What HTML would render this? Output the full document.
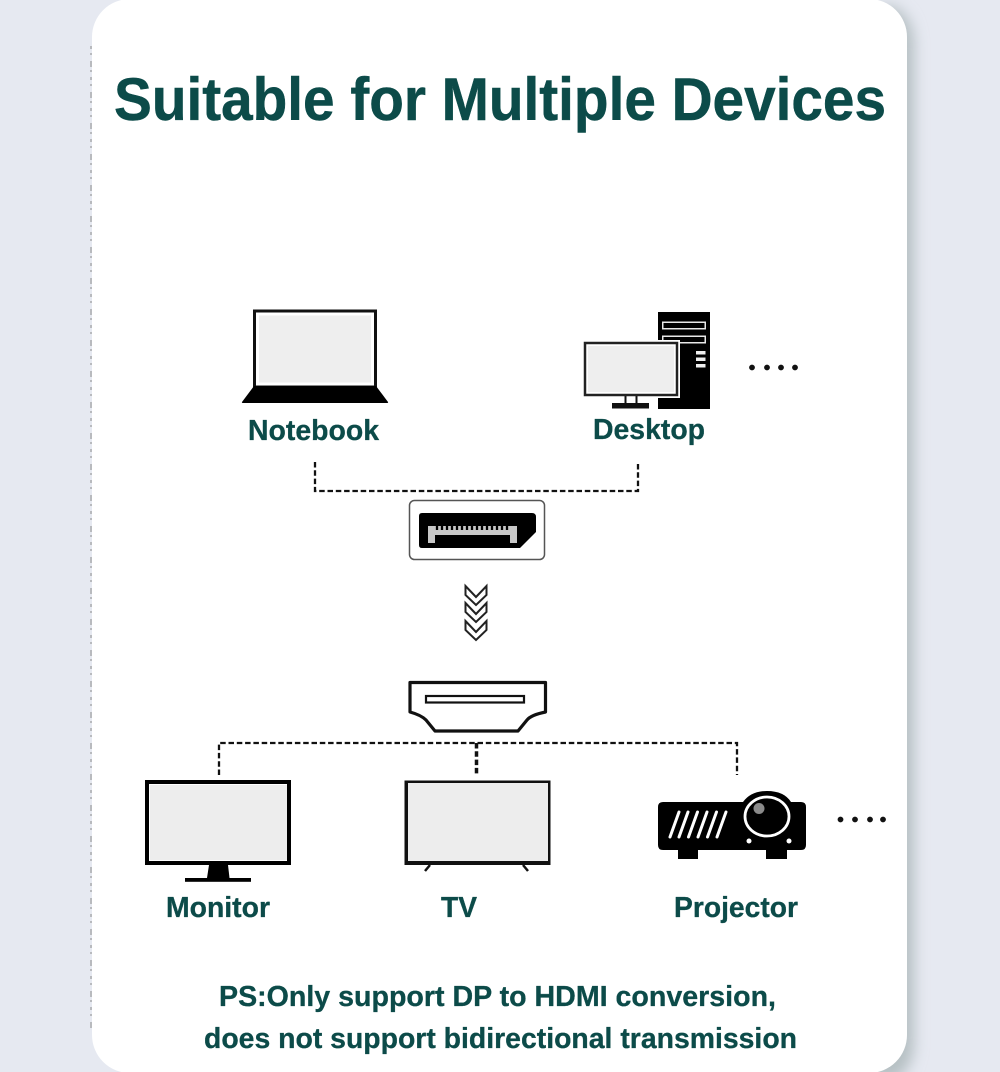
<!DOCTYPE html>
<html><head><meta charset="utf-8"><style>
html,body{margin:0;padding:0;background:#e6e9f1}
svg{display:block}
text{font-family:"Liberation Sans",sans-serif;font-weight:bold;fill:#0c4b49;stroke:#0c4b49;stroke-width:.3}
</style></head><body>
<svg width="1000" height="1072" viewBox="0 0 1000 1072" xmlns="http://www.w3.org/2000/svg">
<defs>
<filter id="bl" filterUnits="userSpaceOnUse" x="820" y="-60" width="160" height="1200"><feGaussianBlur stdDeviation="7"/></filter>
</defs>
<rect width="1000" height="1072" fill="#e6e9f1"/>
<rect x="860" y="6" width="54" height="1075" rx="38" fill="#b6c0c3" filter="url(#bl)"/>
<rect x="92" y="-1" width="815" height="1074" rx="38" fill="#fff"/>
<line x1="91" y1="46" x2="91" y2="1030" stroke="#a9abae" stroke-width="1.500" stroke-dasharray="3 4 2 6 6 3 2 5"/>

<text x="114" y="120" font-size="60" textLength="772" lengthAdjust="spacingAndGlyphs" style="stroke-width:.5">Suitable for Multiple Devices</text>

<!-- Notebook -->
<rect x="254.500" y="311" width="121" height="76" fill="#fff" stroke="#111" stroke-width="3"/>
<rect x="259" y="315.500" width="112" height="67" fill="#eeeeee"/>
<path d="M254 386H376L388 402Q388.500 403 387 403H243Q241.500 403 242 402Z" fill="#000"/>
<text x="248" y="440" font-size="29" textLength="131" lengthAdjust="spacingAndGlyphs">Notebook</text>

<!-- Desktop -->
<rect x="658" y="312" width="52" height="97" fill="#000"/>
<rect x="662" y="321.500" width="44" height="8" fill="#e8e8e8"/><rect x="663.500" y="323" width="41" height="5" fill="#000"/>
<rect x="662" y="335.500" width="44" height="8" fill="#e8e8e8"/><rect x="663.500" y="337" width="41" height="5" fill="#000"/>
<rect x="696" y="351" width="9.500" height="3.500" fill="#eee"/><rect x="696" y="357.500" width="9.500" height="3.500" fill="#eee"/><rect x="696" y="364" width="9.500" height="3.500" fill="#eee"/>
<rect x="582" y="340" width="98" height="58" fill="#fff"/>
<rect x="625.500" y="394" width="11" height="10" fill="#fff" stroke="#111" stroke-width="2"/>
<rect x="585" y="343" width="92" height="52" fill="#fff" stroke="#222" stroke-width="2.500"/>
<rect x="588" y="346" width="86" height="46" fill="#eeeeee"/>
<rect x="612" y="403" width="37" height="5.500" fill="#111"/>
<text x="593" y="439" font-size="29" textLength="112" lengthAdjust="spacingAndGlyphs">Desktop</text>
<g fill="#111"><circle cx="752" cy="367.500" r="2.900"/><circle cx="767" cy="367.500" r="2.900"/><circle cx="781" cy="367.500" r="2.900"/><circle cx="795" cy="367.500" r="2.900"/></g>

<!-- Upper connector -->
<path d="M315 462V491H638V462" fill="none" stroke="#111" stroke-width="2.300" stroke-dasharray="5.500 2.800"/>

<!-- DP port -->
<rect x="409.500" y="500.500" width="135" height="59" rx="5" fill="#fff" stroke="#555" stroke-width="1.500"/>
<path d="M422 513H532Q536 513 536 517V532L520 548H422Q419 548 419 545V516Q419 513 422 513Z" fill="#000"/>
<path d="M428 526H517V543H510V535H435V543H428Z" fill="#c8c8c8"/>
<path d="M437 526V530M442 526V530M447 526V530M452 526V530M457 526V530M462 526V530M467 526V530M472 526V530M477 526V530M482 526V530M487 526V530M492 526V530M497 526V530M502 526V530M507 526V530" stroke="#000" stroke-width="2.300"/>

<!-- Chevrons -->
<g fill="#fff" stroke="#222" stroke-width="2" stroke-linejoin="miter">
<path d="M465.500 621L476 632L486.500 621V630L476 640L465.500 630Z"/>
<path d="M465.500 603L476 614L486.500 603V612L476 622L465.500 612Z"/>
<path d="M465.500 586L476 597L486.500 586V595L476 605L465.500 595Z"/>
</g>

<!-- HDMI port -->
<path d="M410 682.500H545.500V712Q531 715 527 720L518 731H435L426 720Q421 715 410 712Z" fill="#fff" stroke="#111" stroke-width="3.200" stroke-linejoin="round"/>
<rect x="426" y="696" width="98" height="6.500" fill="#fff" stroke="#111" stroke-width="2.200"/>

<!-- Lower connector -->
<path d="M219 775V743H737V775" fill="none" stroke="#111" stroke-width="2.300" stroke-dasharray="5.500 2.800"/>
<line x1="476.500" y1="743" x2="476.500" y2="776" stroke="#111" stroke-width="3.500" stroke-dasharray="5.500 2.800"/>

<!-- Monitor -->
<rect x="147" y="782" width="142" height="81" fill="#fff" stroke="#000" stroke-width="4"/>
<rect x="150" y="785" width="137" height="75" fill="#ededed"/>
<path d="M209 865H228L229.500 878H207Z" fill="#000"/>
<rect x="185" y="878" width="66" height="3.800" fill="#000"/>
<text x="166" y="917" font-size="29" textLength="104" lengthAdjust="spacingAndGlyphs">Monitor</text>

<!-- TV -->
<path d="M404.500 780.500H550.500V865H404.500Z" fill="#111"/>
<rect x="408" y="783" width="140" height="78" fill="#ededed"/>
<path d="M430 865L425 871M523 865L528 871" stroke="#111" stroke-width="2.500"/>
<text x="441" y="917" font-size="29" textLength="36" lengthAdjust="spacingAndGlyphs">TV</text>

<!-- Projector -->
<path d="M663 802H743Q751 791 767 791Q784 791 791 802H801Q806 802 806 807V845Q806 850 801 850H787V859H766V850H698V859H678V850H663Q658 850 658 845V807Q658 802 663 802Z" fill="#000"/>
<g stroke="#fff" stroke-width="3" stroke-linecap="round"><path d="M670 837L679 812M679 837L688 812M688.500 837L697.500 812M698 837L707 812M707.500 837L716.500 812M717 837L726 812"/></g>
<ellipse cx="767" cy="816.500" rx="22" ry="19.500" fill="#000" stroke="#fff" stroke-width="2.800"/>
<circle cx="759" cy="808.500" r="5.500" fill="#8a8a8a"/>
<circle cx="749" cy="841" r="2.500" fill="#fff"/><circle cx="789" cy="841" r="2.500" fill="#fff"/>
<g fill="#111"><circle cx="840.500" cy="819.500" r="2.900"/><circle cx="855" cy="819.500" r="2.900"/><circle cx="870" cy="819.500" r="2.900"/><circle cx="883" cy="819.500" r="2.900"/></g>
<text x="674" y="917" font-size="29" textLength="124" lengthAdjust="spacingAndGlyphs">Projector</text>

<!-- Footer -->
<text x="219" y="1006" font-size="29" textLength="557" lengthAdjust="spacingAndGlyphs">PS:Only support DP to HDMI conversion,</text>
<text x="204" y="1048" font-size="29" textLength="593" lengthAdjust="spacingAndGlyphs">does not support bidirectional transmission</text>
</svg>
</body></html>
